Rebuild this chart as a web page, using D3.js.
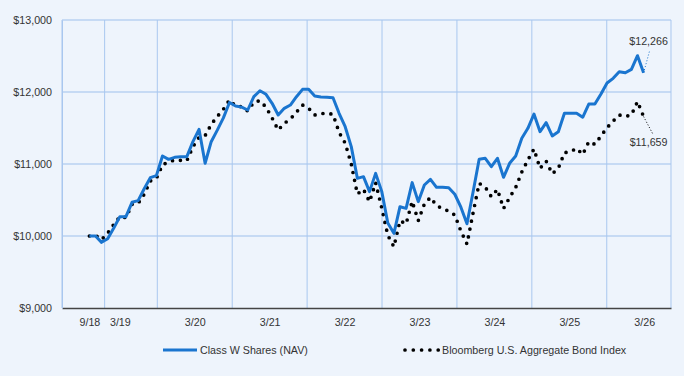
<!DOCTYPE html>
<html>
<head>
<meta charset="utf-8">
<script src="https://cdn.jsdelivr.net/npm/d3@7"></script>
<style>
  body { margin: 0; background: #eef4fc; }
  svg { display: block; font-family: "Liberation Sans", Arial, sans-serif; }
</style>
</head>
<body>
<script>
// Chart size
const width = 684;
const height = 376;

// Monthly values, growth of $10,000
var fundValues = [10000, 10000, 9912, 9963, 10111, 10269, 10269, 10468, 10491, 10657,
  10810, 10838, 11111, 11065, 11093, 11102, 11102, 11310, 11482, 11010,
  11310, 11470, 11640, 11855, 11806, 11790, 11750, 11935, 12018, 11968,
  11843, 11681, 11773, 11819, 11935, 12037, 12037, 11944, 11930, 11926,
  11921, 11704, 11518, 11241, 10801, 10824, 10616, 10870, 10620, 10180,
  10037, 10407, 10384, 10741, 10477, 10708, 10787, 10676, 10676, 10670,
  10580, 10400, 10170, 10610, 11065, 11079, 10963, 11079, 10815, 11010,
  11111, 11357, 11496, 11694, 11449, 11574, 11389, 11449, 11704, 11704,
  11704, 11649, 11833, 11833, 11972, 12125, 12190, 12282, 12268, 12315,
  12504, 12266];
var indexValues = [10000, 10010, 9950, 10040, 10160, 10270, 10255, 10440, 10454, 10580,
  10764, 10800, 10990, 11028, 11056, 11050, 11046, 11240, 11370, 11394,
  11550, 11660, 11760, 11890, 11806, 11796, 11736, 11860, 11880, 11790,
  11640, 11472, 11565, 11625, 11720, 11819, 11775, 11681, 11700, 11704,
  11690, 11440, 11290, 11000, 10583, 10648, 10477, 10740, 10390, 10010,
  9851, 10213, 10167, 10482, 10213, 10444, 10537, 10424, 10378, 10347,
  10292, 10069, 9889, 10320, 10732, 10680, 10546, 10648, 10382, 10535,
  10674, 10889, 11056, 11208, 10940, 11040, 10865, 10940, 11157, 11171,
  11218, 11132, 11310, 11274, 11389, 11504, 11597, 11681, 11660, 11681,
  11868, 11659];

var seriesNames = ["Class W Shares (NAV)", "Bloomberg U.S. Aggregate Bond Index"];
var xTickLabels = ["9/18", "3/19", "3/20", "3/21", "3/22", "3/23", "3/24", "3/25", "3/26"];
var xTickAt = [0, 5, 17.3, 29.6, 41.9, 54.2, 66.5, 78.8, 91.1];
var yTicks = [9000, 10000, 11000, 12000, 13000];

const blue = "#1a75cf";
const gridColor = "#a9c7ef";
const fontSize = "10.7px";

var svg = d3.select("body")
    .append("svg")
    .attr("width", width)
    .attr("height", height);

svg.append("rect")
    .attr("width", width)
    .attr("height", height)
    .attr("fill", "#eef4fc");

// Scales
var x = d3.scaleLinear()
    .domain([-4.5, 95.5])
    .range([62, 671]);
var y = d3.scaleLinear()
    .domain([9000, 13000])
    .range([308, 20]);

// Horizontal gridlines
svg.append("g")
    .selectAll("line")
    .data(yTicks.slice(1))
    .join("line")
    .attr("x1", x.range()[0])
    .attr("x2", x.range()[1])
    .attr("y1", d => y(d))
    .attr("y2", d => y(d))
    .attr("stroke", "#b9d2f2")
    .attr("stroke-width", 1.5);

// Vertical gridlines sit halfway between tick labels, plus the frame sides
var gridX = d3.pairs(xTickAt).map(p => (p[0] + p[1]) / 2);
gridX.push(x.domain()[0], x.domain()[1]);
svg.append("g")
    .selectAll("line")
    .data(gridX)
    .join("line")
    .attr("x1", d => x(d))
    .attr("x2", d => x(d))
    .attr("y1", y.range()[1])
    .attr("y2", y.range()[0])
    .attr("stroke", gridColor)
    .attr("stroke-width", 1);

// Bottom axis
var xAxis = d3.axisBottom(x)
    .tickValues(xTickAt)
    .tickFormat((d, i) => xTickLabels[i])
    .tickSize(0)
    .tickPadding(10);
var gx = svg.append("g")
    .attr("transform", `translate(0, ${y.range()[0]})`)
    .call(xAxis);
gx.select(".domain").attr("stroke", "#444").attr("stroke-width", 1.5);
gx.selectAll("text").attr("font-size", fontSize).attr("fill", "#333")
    .attr("font-family", "Liberation Sans, Arial, sans-serif");

// Left axis
var yAxis = d3.axisLeft(y)
    .tickValues(yTicks)
    .tickFormat(d => "$" + d3.format(",")(d))
    .tickSize(0)
    .tickPadding(10);
var gy = svg.append("g")
    .attr("transform", `translate(${x.range()[0]}, 0)`)
    .call(yAxis);
gy.select(".domain").attr("stroke", gridColor);
gy.selectAll("text").attr("font-size", fontSize).attr("fill", "#333")
    .attr("font-family", "Liberation Sans, Arial, sans-serif");

// Lines
var line = d3.line()
    .x((d, i) => x(i))
    .y(d => y(d));

svg.append("path")
    .datum(indexValues)
    .attr("d", line)
    .attr("fill", "none")
    .attr("stroke", "#000")
    .attr("stroke-width", 3.7)
    .attr("stroke-linecap", "round")
    .attr("stroke-dasharray", "0,8");

svg.append("path")
    .datum(fundValues)
    .attr("d", line)
    .attr("fill", "none")
    .attr("stroke", blue)
    .attr("stroke-width", 3)
    .attr("stroke-linejoin", "round");

// End value labels with leader lines
var last = fundValues.length - 1;
var endLabels = [
  {v: fundValues[last], dx: 6, dy: -22, ty: -28, color: blue},
  {v: indexValues[last], dx: 9, dy: 17, ty: 29, color: "#000"}
];
endLabels.forEach(l => {
  var px = x(last), py = y(l.v);
  svg.append("line")
      .attr("x1", px).attr("y1", py)
      .attr("x2", px + l.dx).attr("y2", py + l.dy)
      .attr("stroke", l.color)
      .attr("stroke-width", 1)
      .attr("stroke-dasharray", "1,2");
  svg.append("text")
      .attr("x", px + 5)
      .attr("y", py + l.ty)
      .attr("text-anchor", "middle")
      .attr("font-size", fontSize)
      .attr("fill", "#333")
      .text("$" + d3.format(",")(l.v));
});

// Legend
var legend = svg.append("g").attr("font-size", fontSize).attr("fill", "#333");
legend.append("line")
    .attr("x1", 163).attr("x2", 197)
    .attr("y1", 350).attr("y2", 350)
    .attr("stroke", blue)
    .attr("stroke-width", 3);
legend.append("text")
    .attr("x", 200).attr("y", 354)
    .text(seriesNames[0]);
legend.append("line")
    .attr("x1", 405).attr("x2", 439)
    .attr("y1", 350).attr("y2", 350)
    .attr("stroke", "#000")
    .attr("stroke-width", 3.7)
    .attr("stroke-linecap", "round")
    .attr("stroke-dasharray", "0,8.3");
legend.append("text")
    .attr("x", 442).attr("y", 354)
    .text(seriesNames[1]);
</script>
</body>
</html>
